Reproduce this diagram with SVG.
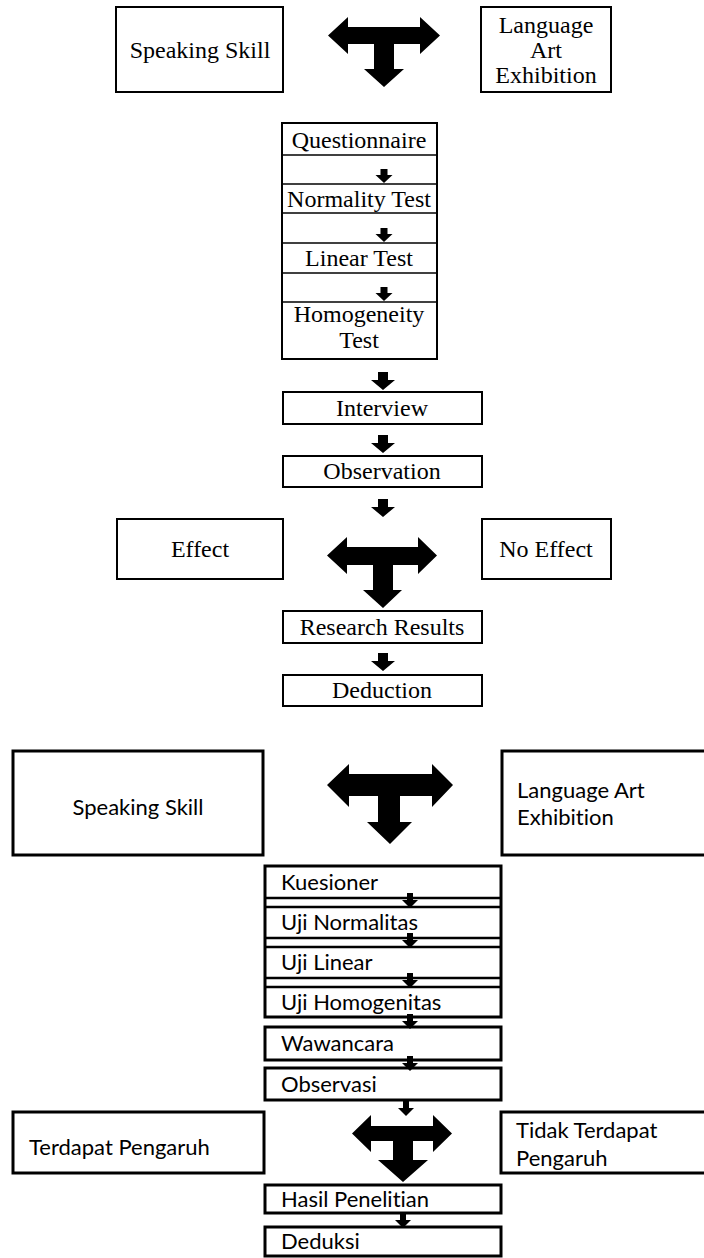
<svg xmlns="http://www.w3.org/2000/svg" width="704" height="1258" viewBox="0 0 704 1258">
<style>
.b1{fill:#fff;stroke:#000;stroke-width:2}
.b2{fill:#fff;stroke:#000;stroke-width:3}
.ln1{stroke:#000;stroke-width:1.5}
.ln2{stroke:#000;stroke-width:2.5}
.ar{fill:#000}
.s{font-family:"Liberation Serif","Times New Roman",serif;font-size:24px;fill:#000;text-anchor:middle}
.c{font-family:Lato,"Liberation Sans",sans-serif;font-size:22px;fill:#000;font-variant-ligatures:none}
.cm{text-anchor:middle}
</style>
<defs>
<path id="sa" d="M-3.5,0 H3.5 V6 H8.5 L0,14 L-8.5,6 H-3.5 Z"/>
<path id="ma" d="M-5,0 H5 V8 H12 L0,18 L-12,8 H-5 Z"/>
<path id="ba" d="M-3,0 H3 V7 H8 L0,15 L-8,7 H-3 Z"/>
</defs>

<!-- Top section -->
<g id="n-speaking-en"><rect class="b1" x="116" y="7" width="167" height="85"/><text class="s" x="200" y="58">Speaking Skill</text></g>
<g id="n-lae-en"><rect class="b1" x="481" y="7" width="130" height="85"/><text class="s" x="546" y="33">Language</text><text class="s" x="546" y="58">Art</text><text class="s" x="546" y="83">Exhibition</text></g>

<g id="n-tests-en">
<rect class="b1" x="282" y="123" width="155" height="236"/>
<line class="ln1" x1="282" y1="155" x2="437" y2="155"/>
<line class="ln1" x1="282" y1="184" x2="437" y2="184"/>
<line class="ln1" x1="282" y1="213" x2="437" y2="213"/>
<line class="ln1" x1="282" y1="243" x2="437" y2="243"/>
<line class="ln1" x1="282" y1="273" x2="437" y2="273"/>
<line class="ln1" x1="282" y1="302" x2="437" y2="302"/>
<text class="s" x="359" y="148">Questionnaire</text>
<text class="s" x="359" y="207">Normality Test</text>
<text class="s" x="359" y="266">Linear Test</text>
<text class="s" x="359" y="322">Homogeneity</text>
<text class="s" x="359" y="348">Test</text>
</g>
<g id="n-interview"><rect class="b1" x="283" y="392" width="199" height="32"/><text class="s" x="382" y="416">Interview</text></g>
<g id="n-observation"><rect class="b1" x="283" y="456" width="199" height="31"/><text class="s" x="382" y="479">Observation</text></g>
<g id="n-effect"><rect class="b1" x="117" y="519" width="166" height="60"/><text class="s" x="200" y="557">Effect</text></g>
<g id="n-noeffect"><rect class="b1" x="482" y="519" width="129" height="60"/><text class="s" x="546" y="557">No Effect</text></g>
<g id="n-results"><rect class="b1" x="283" y="611" width="199" height="32"/><text class="s" x="382" y="635">Research Results</text></g>
<g id="n-deduction"><rect class="b1" x="283" y="675" width="199" height="31"/><text class="s" x="382" y="698">Deduction</text></g>

<!-- Bottom section -->
<g id="n-speaking-id"><rect class="b2" x="13" y="751" width="250" height="104"/><text class="c cm" x="138" y="815">Speaking Skill</text></g>
<g id="n-lae-id"><rect class="b2" x="502" y="751" width="215" height="104"/><text class="c" x="517" y="798">Language Art</text><text class="c" x="517" y="825">Exhibition</text></g>
<g id="n-tests-id">
<rect class="b2" x="265" y="866" width="236" height="151"/>
<line class="ln2" x1="265" y1="898" x2="501" y2="898"/>
<line class="ln2" x1="265" y1="907" x2="501" y2="907"/>
<line class="ln2" x1="265" y1="938" x2="501" y2="938"/>
<line class="ln2" x1="265" y1="947" x2="501" y2="947"/>
<line class="ln2" x1="265" y1="978" x2="501" y2="978"/>
<line class="ln2" x1="265" y1="987" x2="501" y2="987"/>
<text class="c" x="281" y="890">Kuesioner</text>
<text class="c" x="281" y="930">Uji Normalitas</text>
<text class="c" x="281" y="970">Uji Linear</text>
<text class="c" x="281" y="1010">Uji Homogenitas</text>
</g>
<g id="n-wawancara"><rect class="b2" x="265" y="1027" width="236" height="33"/><text class="c" x="281" y="1051">Wawancara</text></g>
<g id="n-observasi"><rect class="b2" x="265" y="1068" width="236" height="32"/><text class="c" x="281" y="1092">Observasi</text></g>
<g id="n-terdapat"><rect class="b2" x="13" y="1112" width="251" height="61"/><text class="c" x="29" y="1155">Terdapat Pengaruh</text></g>
<g id="n-tidak"><rect class="b2" x="501" y="1112" width="215" height="61"/><text class="c" x="516" y="1138">Tidak Terdapat</text><text class="c" x="516" y="1166">Pengaruh</text></g>
<g id="n-hasil"><rect class="b2" x="265" y="1185" width="236" height="28"/><text class="c" x="281" y="1207">Hasil Penelitian</text></g>
<g id="n-deduksi"><rect class="b2" x="265" y="1227" width="236" height="29"/><text class="c" x="281" y="1249">Deduksi</text></g>

<!-- Connectors -->
<g id="connectors" class="ar">
<path d="M328,35.5 L348,17 V27 H420 V17 L440,35.5 L420,54 V44 H394 V69 H404 L384,87 L364,69 H374 V44 H348 V54 Z"/>
<use href="#sa" x="384" y="169"/>
<use href="#sa" x="384" y="228"/>
<use href="#sa" x="384" y="287"/>
<use href="#ma" x="383" y="372"/>
<use href="#ma" x="383" y="435"/>
<use href="#ma" x="383" y="499"/>
<path d="M327,555.5 L347,537 V547 H418 V537 L437,555.5 L418,574 V565 H393 V590 H402 L383,608 L363,590 H373 V565 H347 V574 Z"/>
<use href="#ma" x="383" y="653"/>
<path d="M327,785 L349,764 V774 H432 V764 L453,785 L432,807 V796 H400 V822 H412 L390,844 L367,822 H378 V796 H349 V807 Z"/>
<use href="#ba" x="410" y="893"/>
<use href="#ba" x="410" y="933"/>
<use href="#ba" x="410" y="973"/>
<use href="#ba" x="410" y="1014"/>
<use href="#ba" x="410" y="1056"/>
<use href="#ba" x="406" y="1101"/>
<path d="M352,1133.5 L371,1115 V1126 H433 V1115 L452,1133.5 L433,1152 V1141 H413 V1160 H428 L403,1182 L378,1160 H393 V1141 H371 V1152 Z"/>
<use href="#ba" x="403" y="1213"/>
</g>
</svg>
